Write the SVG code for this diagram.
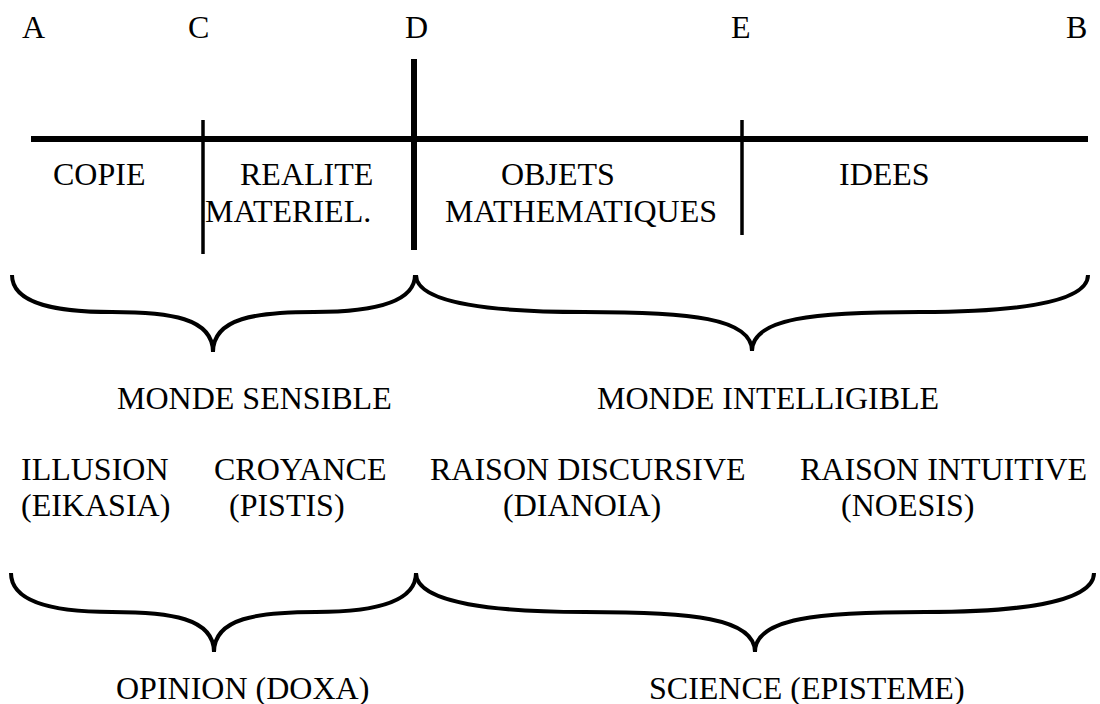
<svg xmlns="http://www.w3.org/2000/svg" width="1100" height="704" viewBox="0 0 1100 704">
<style>
text{font-family:'Liberation Serif','DejaVu Serif',serif;font-size:32px;fill:#000}
.thick{stroke:#000;stroke-width:6;fill:none}
.thin{stroke:#000;stroke-width:3.5;fill:none}
.brace{stroke:#000;stroke-width:4;fill:none;stroke-linejoin:miter}
</style>
<rect width="1100" height="704" fill="#fff"/>
<g id="points" font-family="Liberation Serif, serif">
<text x="22" y="38">A</text>
<text x="188" y="38">C</text>
<text x="405" y="38">D</text>
<text x="731" y="38">E</text>
<text x="1066" y="38">B</text>
</g>
<g id="connectors">
<line class="thick" x1="31" y1="139" x2="1088" y2="139"/>
<line class="thin" x1="203" y1="120" x2="203" y2="254"/>
<line class="thick" x1="414" y1="59" x2="414" y2="250"/>
<line class="thin" x1="742" y1="120" x2="742" y2="235"/>
<path class="brace" d="M12,275 C12,305 60,312 112,312 C170,312 213,318 213,352 C213,318 256,312 314,312 C366,312 415,305 415,275"/>
<path class="brace" d="M416,275 C416,305 500,312 584,312 C690,312 752,318 752,351 C752,318 814,312 920,312 C1004,312 1088,305 1088,275"/>
<path class="brace" d="M11,573 C11,604 60,612 112,612 C170,612 214,618 214,652 C214,618 258,612 316,612 C368,612 416,604 416,573"/>
<path class="brace" d="M416,573 C416,604 500,612 585,612 C692,612 755,618 755,652 C755,618 818,612 925,612 C1010,612 1094,604 1094,573"/>
</g>
<g id="copie"><text x="53" y="185">COPIE</text></g>
<g id="realite"><text x="240" y="185">REALITE</text><text x="205" y="222">MATERIEL.</text></g>
<g id="objets"><text x="501" y="185">OBJETS</text><text x="445" y="222">MATHEMATIQUES</text></g>
<g id="idees"><text x="839" y="185">IDEES</text></g>
<g id="monde-sensible"><text x="117" y="409">MONDE SENSIBLE</text></g>
<g id="monde-intelligible"><text x="597" y="409">MONDE INTELLIGIBLE</text></g>
<g id="illusion"><text x="21" y="480">ILLUSION</text><text x="21" y="516">(EIKASIA)</text></g>
<g id="croyance"><text x="214" y="480">CROYANCE</text><text x="229" y="516">(PISTIS)</text></g>
<g id="dianoia"><text x="430" y="480">RAISON DISCURSIVE</text><text x="503" y="516">(DIANOIA)</text></g>
<g id="noesis"><text x="800" y="480">RAISON INTUITIVE</text><text x="841" y="516">(NOESIS)</text></g>
<g id="opinion"><text x="116" y="699">OPINION (DOXA)</text></g>
<g id="science"><text x="649" y="699">SCIENCE (EPISTEME)</text></g>
</svg>
